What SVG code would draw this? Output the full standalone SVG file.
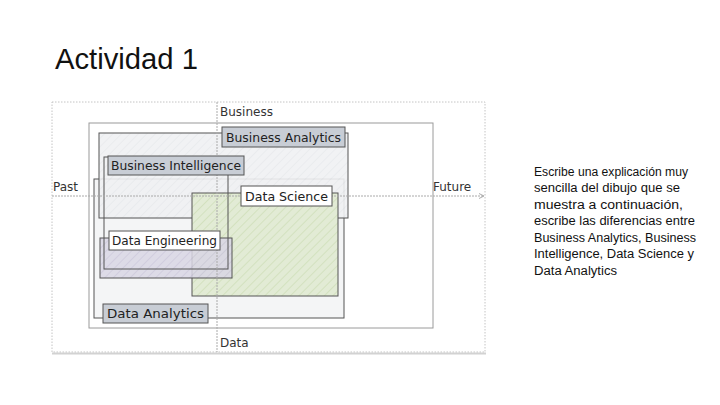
<svg xmlns="http://www.w3.org/2000/svg" width="720" height="405" viewBox="0 0 720 405">
<defs>
<pattern id="hatchGray" width="6" height="6" patternUnits="userSpaceOnUse" patternTransform="rotate(45)">
<rect width="6" height="6" fill="#f0f1f3"/>
<line x1="0" y1="0" x2="0" y2="6" stroke="#e2e5e8" stroke-width="1.2"/>
</pattern>
<pattern id="hatchGreen" width="6" height="6" patternUnits="userSpaceOnUse" patternTransform="rotate(45)">
<rect width="6" height="6" fill="#e2ebd5"/>
<line x1="0" y1="0" x2="0" y2="6" stroke="#cfdeb8" stroke-width="1.5"/>
</pattern>
<pattern id="hatchPurple" width="6" height="6" patternUnits="userSpaceOnUse" patternTransform="rotate(45)">
<rect width="6" height="6" fill="#d9d6e4"/>
<line x1="0" y1="0" x2="0" y2="6" stroke="#c7c2d8" stroke-width="1.5"/>
</pattern>
<marker id="arr" markerWidth="6" markerHeight="6" refX="5" refY="3" orient="auto">
<path d="M0,0.5 L5,3 L0,5.5" fill="none" stroke="#999" stroke-width="0.8"/>
</marker>
</defs>
<style>
.title{font-family:"Liberation Sans",Arial,sans-serif;font-size:29px;fill:#111}
.para{font-family:"Liberation Sans",Arial,sans-serif;font-size:12.5px;fill:#111}
.lbl{font-family:"DejaVu Sans","Liberation Sans",sans-serif;font-size:12px;fill:#222}
.axis{font-family:"DejaVu Sans","Liberation Sans",sans-serif;font-size:12px;fill:#333}
.region{stroke:#555;stroke-width:1}
.tag{stroke:#555;stroke-width:1}
.tagG{fill:#c8cdd5}
.tagW{fill:#ffffff}
</style>
<rect width="720" height="405" fill="#ffffff"/>
<text class="title" x="55" y="69" textLength="143" lengthAdjust="spacingAndGlyphs">Actividad 1</text>

<g id="frame">
<rect x="52" y="102" width="433" height="250" fill="#ffffff" stroke="#c4c4c4" stroke-width="1" stroke-dasharray="1.5,1.5"/>
<line x1="52" y1="353.5" x2="486" y2="353.5" stroke="#d2d2d2" stroke-width="2"/>
<rect x="89" y="123" width="344" height="205" fill="none" stroke="#9a9a9a" stroke-width="1"/>
</g>

<g id="data-analytics-region">
<rect class="region" x="94" y="179" width="250" height="139" fill="#f4f5f6"/>
</g>
<g id="business-analytics-region">
<rect class="region" x="99" y="133" width="249" height="85" fill="url(#hatchGray)" fill-opacity="0.9"/>
</g>
<g id="data-science-region">
<rect class="region" x="192" y="193" width="146" height="103" fill="url(#hatchGreen)"/>
</g>
<g id="data-engineering-region">
<rect class="region" x="100" y="238" width="132" height="40" fill="url(#hatchPurple)" fill-opacity="0.85"/>
</g>
<g id="business-intelligence-region">
<rect class="region" x="104" y="157" width="124" height="112" fill="none"/>
</g>

<g id="connectors">
<line x1="52" y1="196" x2="484" y2="196" stroke="#aaaaaa" stroke-width="1" stroke-dasharray="2,1" marker-end="url(#arr)"/>
<line x1="217" y1="102" x2="217" y2="352" stroke="#aaaaaa" stroke-width="1" stroke-dasharray="2,1"/>
</g>

<g id="axis-labels">
<text class="axis" x="220" y="116">Business</text>
<text class="axis" x="220" y="347">Data</text>
<text class="axis" x="53" y="191">Past</text>
<text class="axis" x="433" y="191">Future</text>
</g>

<g id="label-business-analytics">
<rect class="tag tagG" x="222" y="127" width="123" height="20"/>
<text class="lbl" x="226" y="141.5" textLength="115" lengthAdjust="spacingAndGlyphs">Business Analytics</text>
</g>
<g id="label-business-intelligence">
<rect class="tag tagG" x="108" y="156" width="136" height="19"/>
<text class="lbl" x="111" y="170" textLength="130" lengthAdjust="spacingAndGlyphs">Business Intelligence</text>
</g>
<g id="label-data-science">
<rect class="tag tagW" x="241" y="186" width="91" height="20"/>
<text class="lbl" x="245" y="200.5" textLength="83" lengthAdjust="spacingAndGlyphs">Data Science</text>
</g>
<g id="label-data-engineering">
<rect class="tag tagW" x="109" y="231" width="111" height="19"/>
<text class="lbl" x="112" y="245" textLength="105" lengthAdjust="spacingAndGlyphs">Data Engineering</text>
</g>
<g id="label-data-analytics">
<rect class="tag tagG" x="103" y="304" width="105" height="19"/>
<text class="lbl" x="107" y="318" textLength="97" lengthAdjust="spacingAndGlyphs">Data Analytics</text>
</g>

<g id="instructions">
<text class="para" x="534" y="175.5" textLength="154" lengthAdjust="spacingAndGlyphs">Escribe una explicación muy</text>
<text class="para" x="534" y="192" textLength="146" lengthAdjust="spacingAndGlyphs">sencilla del dibujo que se</text>
<text class="para" x="534" y="208.5" textLength="149" lengthAdjust="spacingAndGlyphs">muestra a continuación,</text>
<text class="para" x="534" y="225" textLength="161" lengthAdjust="spacingAndGlyphs">escribe las diferencias entre</text>
<text class="para" x="534" y="241.5" textLength="162" lengthAdjust="spacingAndGlyphs">Business Analytics, Business</text>
<text class="para" x="534" y="258" textLength="160" lengthAdjust="spacingAndGlyphs">Intelligence, Data Science y</text>
<text class="para" x="534" y="274.5" textLength="83" lengthAdjust="spacingAndGlyphs">Data Analytics</text>
</g>
</svg>
